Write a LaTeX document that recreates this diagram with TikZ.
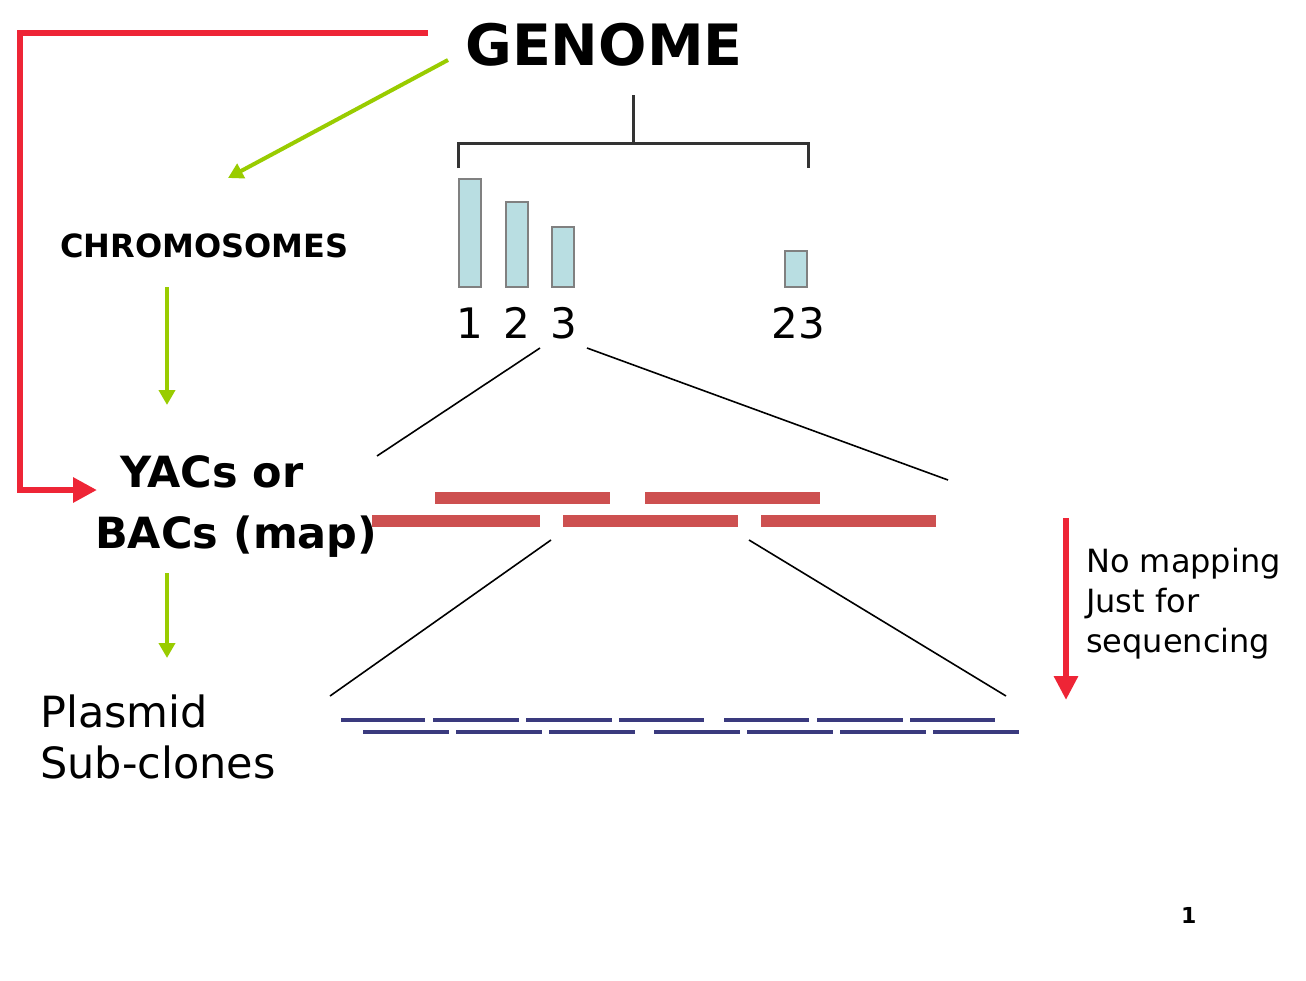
\documentclass[tikz,border=0pt]{standalone}
\usepackage{xcolor}
\usepackage{fontspec}
\setmainfont{DejaVu Sans}
\usepackage{tikz}
\usetikzlibrary{arrows.meta}

\definecolor{flowred}{HTML}{EE2536}
\definecolor{leaf}{HTML}{99CC00}
\definecolor{bacred}{HTML}{CD5050}
\definecolor{plasblue}{HTML}{3A3A7E}
\definecolor{chromfill}{HTML}{B9DEE2}

\begin{document}
\begin{tikzpicture}[
      x=1pt, y=-1pt,
      lbl/.style={inner sep=0pt, anchor=base west},
      num/.style={inner sep=0pt, anchor=base, font=\fontsize{42}{44}\selectfont},
      chrom/.style={rectangle, draw=gray, line width=2.5pt, fill=chromfill, minimum width=22pt, anchor=south, inner sep=0pt},
      grnarrow/.style={-{Triangle[length=15pt,width=16pt]}, line width=4pt, draw=leaf},
      redarrow/.style={-{Triangle[length=24pt,width=24pt]}, line width=6.5pt, draw=flowred},
      bac/.style={line width=12pt, draw=bacred},
      plasmid/.style={line width=4pt, draw=plasblue},
      zoomline/.style={line width=1.6pt, draw=black}
    ]
      \useasboundingbox[fill=white] (0,0) rectangle (1306,980);

      % labels on the left (base = last line)
      \node[lbl, font=\fontsize{57}{60}\selectfont\bfseries] (genome) at (465,65) {GENOME};
      \node[lbl, font=\fontsize{32}{36}\selectfont\bfseries] (chromo) at (60,257) {CHROMOSOMES};
      \node[lbl, font=\fontsize{43}{61}\selectfont\bfseries, align=left] (yacs) at (95,548) {\hspace{25pt}YACs or\\BACs (map)};
      \node[lbl, font=\fontsize{43}{51}\selectfont, align=left] (plasmid) at (40,778) {Plasmid\\Sub-clones};
      \node[lbl, font=\fontsize{32}{40}\selectfont, align=left] (nomap) at (1086,652) {No mapping\\Just for\\sequencing};
      \node[lbl, font=\fontsize{22}{24}\selectfont\bfseries] (page) at (1181,923) {1};

      % flow arrows
      \coordinate (redstart) at (428,33);
      \coordinate (yacin) at (97,490);
      \draw[redarrow] (redstart) -- (20,33) |- (yacin);
      \draw[grnarrow] (448,60) -- (228,178);
      \draw[grnarrow] (167,287) -- (167,405);
      \draw[grnarrow] (167,573) -- (167,658);
      \coordinate (seqtop) at (1066,518);
      \coordinate (seqbot) at (1066,700);
      \draw[redarrow, -{Triangle[length=24pt,width=23pt]}] (seqtop) -- (seqbot);

      % genome bracket
      \draw[line width=3pt, draw=black!80] (633,95) -- (633,143);
      \draw[line width=3pt, draw=black!80] (458,168) -- (458,143) -- (808,143) -- (808,168);

      % chromosomes
      \node[chrom, minimum height=108pt] (c1) at (470,288) {};
      \node[chrom, minimum height=85pt] (c2) at (517,288) {};
      \node[chrom, minimum height=60pt] (c3) at (563,288) {};
      \node[chrom, minimum height=36pt] (c23) at (796,288) {};
      \node[num] (n1) at (470,338) {1};
      \node[num] (n2) at (517,338) {2};
      \node[num] (n3) at (564,338) {3};
      \node[num] (n23) at (798,338) {23};

      % zoom from chromosome 3 to BAC contig
      \draw[zoomline] (540,348) -- (377,456);
      \draw[zoomline] (587,348) -- (948,480);

      % BAC contig
      \draw[bac] (435,498) -- (610,498);
      \draw[bac] (645,498) -- (820,498);
      \draw[bac] (372,521) -- (540,521);
      \draw[bac] (563,521) -- (738,521);
      \draw[bac] (761,521) -- (936,521);

      % zoom from BAC to plasmids
      \draw[zoomline] (551,540) -- (330,696);
      \draw[zoomline] (749,540) -- (1006,696);

      % plasmid sub-clones
      \foreach \a/\b in {341/425, 433/519, 526/612, 619/704, 724/809, 817/903, 910/995}
        \draw[plasmid] (\a,720) -- (\b,720);
      \foreach \a/\b in {363/449, 456/542, 549/635, 654/740, 747/833, 840/926, 933/1019}
        \draw[plasmid] (\a,732) -- (\b,732);
    \end{tikzpicture}
\end{document}
